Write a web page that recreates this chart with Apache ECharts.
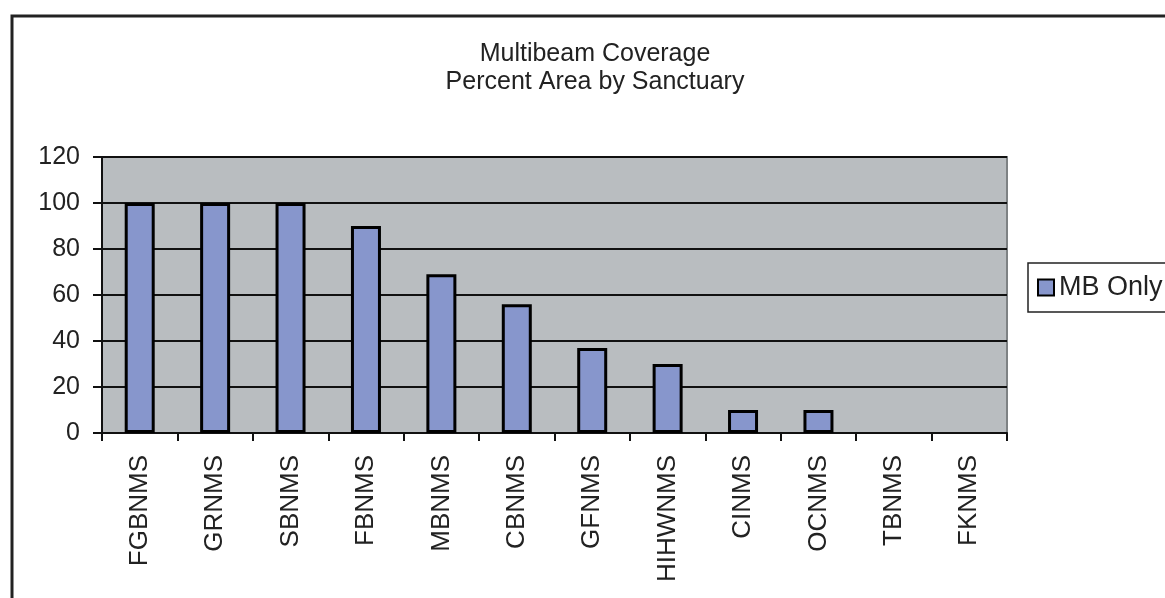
<!DOCTYPE html>
<html>
<head>
<meta charset="utf-8">
<script src="https://cdn.jsdelivr.net/npm/echarts@6/dist/echarts.min.js"></script>
<style>
  html, body { margin: 0; padding: 0; background: #fff; }
  #chart { width: 1165px; height: 598px; }
</style>
</head>
<body>
<div id="chart"></div>
<script>
// 各保护区多波束覆盖率（%）
var sanctuaries = ['FGBNMS', 'GRNMS', 'SBNMS', 'FBNMS', 'MBNMS', 'CBNMS', 'GFNMS', 'HIHWNMS', 'CINMS', 'OCNMS', 'TBNMS', 'FKNMS'];
var mbOnly = [100, 100, 100, 90, 69, 56, 37, 30, 10, 10, 0, 0];
var yTicks = [0, 20, 40, 60, 80, 100, 120];

var font = '"Liberation Sans", Arial, sans-serif';
var myChart = echarts.init(document.getElementById('chart'));

myChart.setOption({
    animation: false,
    backgroundColor: '#fff',
    textStyle: { fontFamily: font },
    title: {
        text: 'Multibeam Coverage\nPercent Area by Sanctuary',
        left: 590,
        top: 35,
        textAlign: 'center',
        textStyle: {
            fontFamily: font,
            fontWeight: 'normal',
            fontSize: 25,
            lineHeight: 28,
            color: '#222'
        }
    },
    legend: {
        data: ['MB Only'],
        left: 1028,
        top: 263,
        orient: 'vertical',
        icon: 'rect',
        itemWidth: 16,
        itemHeight: 16,
        itemGap: 0,
        padding: [11, 30, 11, 9],
        borderColor: '#222',
        borderWidth: 1.5,
        itemStyle: { borderColor: '#000', borderWidth: 2 },
        textStyle: { fontFamily: font, fontSize: 27, color: '#222' }
    },
    grid: {
        left: 102,
        right: 158,
        top: 157,
        bottom: 165,
        show: true,
        backgroundColor: '#b9bdc0',
        borderColor: '#7e8284',
        borderWidth: 2
    },
    xAxis: {
        type: 'category',
        data: sanctuaries,
        axisLine: { lineStyle: { color: '#111', width: 2 } },
        axisTick: { show: true, length: 8, lineStyle: { color: '#111', width: 2 } },
        axisLabel: {
            interval: 0,
            rotate: 90,
            margin: 22,
            fontFamily: font,
            fontSize: 26,
            color: '#222'
        },
        splitLine: { show: false }
    },
    yAxis: {
        type: 'value',
        min: yTicks[0],
        max: yTicks[yTicks.length - 1],
        interval: 20,
        axisLine: { show: true, lineStyle: { color: '#111', width: 2 } },
        axisTick: { show: true, length: 9, lineStyle: { color: '#111', width: 2 } },
        axisLabel: {
            margin: 22,
            fontFamily: font,
            fontSize: 25,
            color: '#222'
        },
        splitLine: { show: true, lineStyle: { color: '#111', width: 2 } }
    },
    series: [{
        name: 'MB Only',
        type: 'bar',
        // 值为0的柱子不画边框
        data: mbOnly.map(function (v) {
            return v === 0 ? { value: v, itemStyle: { borderWidth: 0 } } : v;
        }),
        barWidth: 30,
        itemStyle: {
            color: '#8796cc',
            borderColor: '#000',
            borderWidth: 3
        }
    }],
    graphic: [{
        // 外框
        type: 'rect',
        shape: { x: 12, y: 16, width: 1300, height: 800 },
        style: { fill: null, stroke: '#222', lineWidth: 3 },
        silent: true
    }]
});
window.onresize = myChart.resize;
</script>
</body>
</html>
